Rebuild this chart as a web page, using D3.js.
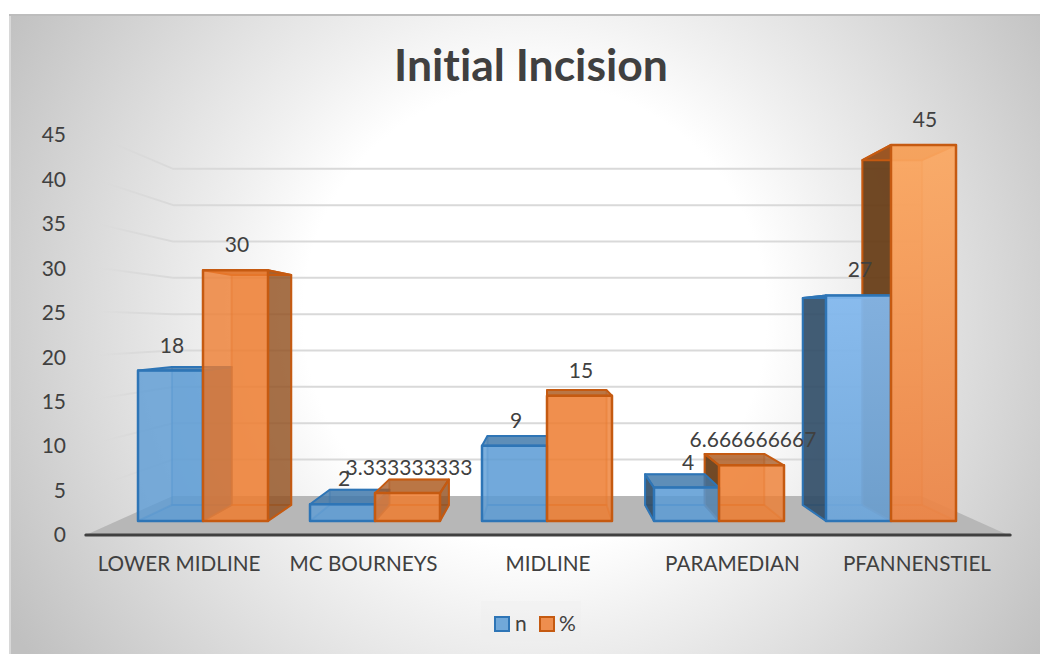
<!DOCTYPE html>
<html><head><meta charset="utf-8">
<script src="https://cdnjs.cloudflare.com/ajax/libs/d3/7.8.5/d3.min.js"></script>
<style>html,body{margin:0;padding:0;background:#fff}svg{display:block}text{font-family:Lato,"Noto Sans",sans-serif;fill:#404040;font-variant-ligatures:none;font-feature-settings:"liga" 0}</style>
</head><body><svg id="c" width="1040" height="654"></svg>
<script>
const title = "Initial Incision";
const categories = ["LOWER MIDLINE","MC BOURNEYS","MIDLINE","PARAMEDIAN","PFANNENSTIEL"];
const seriesNames = ["n","%"];
const nValues = [18,2,9,4,27];
const pctValues = [30,3.333333333,15,6.666666667,45];
const yTicks = [0,5,10,15,20,25,30,35,40,45];

const W=1040,H=654;
const svg=d3.select("#c");
const defs=svg.append("defs");

// background
const bg=defs.append("radialGradient").attr("id","bg").attr("gradientUnits","userSpaceOnUse")
  .attr("cx",535).attr("cy",315).attr("r",610);
[[0,"#fff"],[.38,"#fff"],[.52,"#f0f0f0"],[.84,"#d0d0d0"],[1,"#c0c0c0"]].forEach(s=>bg.append("stop").attr("offset",s[0]).attr("stop-color",s[1]));
svg.append("rect").attr("x",9).attr("y",14).attr("width",W-9).attr("height",H-14).attr("fill","url(#bg)");
svg.append("rect").attr("x",9).attr("y",14).attr("width",W-9).attr("height",2).attr("fill","#bdbdbd");
svg.append("rect").attr("x",9).attr("y",16).attr("width",2).attr("height",H-16).attr("fill","#d8d8d8");

// scales on the front plane of the bars, plus perspective around a vanishing point
const x0=d3.scaleBand().domain(categories).range([117,977]);
const x1=d3.scaleBand().domain(seriesNames).range([0,130]);
const y=d3.scaleLinear().domain([0,45]).range([521,145]);
const yLabel=d3.scaleLinear().domain([0,45]).range([535,135]);
const vx=547,vy=328;
const S={wallFront:1.0725,barFront:1,barBack:.917,wallBack:.87};
const px=(x,s)=>vx+s*(x-vx), py=(yy,s)=>vy+s*(yy-vy);
const P=(x,yy,s)=>[px(x,s),py(yy,s)];
const poly=pts=>pts.map(p=>p[0].toFixed(1)+","+p[1].toFixed(1)).join(" ");

// side wall gridlines fade out towards the front
const wg=defs.append("linearGradient").attr("id","wallFade").attr("gradientUnits","userSpaceOnUse")
  .attr("x1",px(117,S.wallFront)).attr("x2",px(117,S.wallBack)).attr("y1",0).attr("y2",0);
wg.append("stop").attr("offset",.1).attr("stop-color","#d9d9d9").attr("stop-opacity",0);
wg.append("stop").attr("offset",.5).attr("stop-color","#d9d9d9").attr("stop-opacity",.8);
wg.append("stop").attr("offset",1).attr("stop-color","#d9d9d9");

const [xL,xR]=x0.range();
// gridlines
const grid=svg.append("g");
yTicks.filter(t=>t>0).forEach(t=>{
  const a=P(xL,y(t),S.wallFront),b=P(xL,y(t),S.wallBack),c=P(xR,y(t),S.wallBack);
  grid.append("polygon").attr("points",poly([[a[0],a[1]-1],[b[0],b[1]-1],[b[0],b[1]+1],[a[0],a[1]+1]])).attr("fill","url(#wallFade)");
  grid.append("line").attr("x1",b[0]).attr("x2",c[0]).attr("y1",b[1]).attr("y2",c[1]).attr("stroke","#d9d9d9").attr("stroke-width",2);
});
// floor
svg.append("polygon").attr("fill","#b7b7b7").attr("points",poly([
  P(xL,y(0),S.wallFront),P(xL,y(0),S.wallBack),P(xR,y(0),S.wallBack),P(xR,y(0),S.wallFront)]));
// axis
const axA=P(xL,y(0),S.wallFront),axB=P(xR,y(0),S.wallFront);
svg.append("line").attr("x1",axA[0]).attr("x2",axB[0]+2).attr("y1",axA[1]).attr("y2",axB[1])
  .attr("stroke","#404040").attr("stroke-width",3).attr("stroke-linecap","round");

// y tick labels
const tickG=svg.append("g");
yTicks.forEach(t=>tickG.append("text").attr("x",66).attr("y",yLabel(t)).attr("dy","0.35em")
  .attr("text-anchor","end").attr("font-size",21).text(t));
// category labels follow the front edge of the floor
categories.forEach(c=>svg.append("text").attr("x",px(x0(c)+x0.bandwidth()/2,S.wallFront)+1).attr("y",564).attr("dy","0.33em")
  .attr("text-anchor","middle").attr("font-size",20.7).text(c));

// palettes
const pal={n:{line:"#2e75b6",front:"#5b9bd5",sideL:"#2a5480",sideR:"#2f4a63",top:"#3f76a8"},
           "%":{line:"#c55a11",front:"#ed7d31",sideL:"#8a4e20",sideR:"#5f3510",top:"#a85a22"}};
const litG=defs.append("linearGradient").attr("id","litO").attr("x1",0).attr("x2",0).attr("y1",0).attr("y2",1);
litG.append("stop").attr("offset",0).attr("stop-color","#fba760");
litG.append("stop").attr("offset",1).attr("stop-color","#ec8445");
const litB=defs.append("linearGradient").attr("id","litB").attr("x1",0).attr("x2",0).attr("y1",0).attr("y2",1);
litB.append("stop").attr("offset",0).attr("stop-color","#84b9ee");
litB.append("stop").attr("offset",1).attr("stop-color","#6ea6da");

const bars=svg.append("g");
const vals={n:nValues,"%":pctValues};
categories.forEach((cat,i)=>{
  const g=bars.append("g");
  const order=i>=3?["%","n"]:["n","%"];
  const layout=order.map(name=>{
    const xa=x0(cat)+21+x1(name), xb=xa+x1.bandwidth(), top=y(vals[name][i]), base=y(0);
    return {name,xa,xb,top,base,c:pal[name]};
  });
  // inner (rear) faces
  layout.forEach(b=>{
    const {xa,xb,top,base,c}=b, sb=S.barBack, sf=S.barFront;
    const face=(pts,fill,op,so)=>g.append("polygon").attr("points",poly(pts)).attr("fill",fill).attr("fill-opacity",op)
      .attr("stroke",c.line).attr("stroke-opacity",so).attr("stroke-width",2).attr("stroke-linejoin","round");
    face([P(xa,top,sb),P(xb,top,sb),P(xb,base,sb),P(xa,base,sb)],c.front,.3,.4); // back
    face([P(xa,base,sb),P(xb,base,sb),P(xb,base,sf),P(xa,base,sf)],c.front,.3,.4); // bottom
    const mid=(xa+xb)/2;
    if(Math.abs(mid-vx)>40){
      const sx=mid<vx?xb:xa;
      face([P(sx,top,sb),P(sx,top,sf),P(sx,base,sf),P(sx,base,sb)],mid<vx?c.sideL:c.sideR,mid<vx?.75:.88,1);
    }
    // top face
    face([P(xa,top,sb),P(xb,top,sb),P(xb,top,sf),P(xa,top,sf)],c.top,.78,1);
  });
  // front faces
  [...layout].sort((a,b)=>a.xa-b.xa).forEach(b=>{
    const {xa,xb,top,base,c,name}=b;
    const fill=i===4?(name==="n"?"url(#litB)":"url(#litO)"):c.front;
    g.append("polygon").attr("points",poly([P(xa,top,1),P(xb,top,1),P(xb,base,1),P(xa,base,1)]))
      .attr("fill",fill).attr("fill-opacity",i===4?.92:.8).attr("stroke",c.line).attr("stroke-width",2.5).attr("stroke-linejoin","round");
  });
  // data labels
  seriesNames.forEach(name=>{
    const xc=x0(cat)+21+x1(name)+x1.bandwidth()/2+1.5;
    svg.append("text").datum(vals[name][i]).attr("class","dl").attr("x",xc).attr("y",y(vals[name][i])-25).attr("dy","0.33em")
      .attr("text-anchor","middle").attr("font-size",21).text(d=>d);
  });
});
svg.selectAll("text.dl").raise();

// title
svg.append("text").attr("x",531).attr("y",67).attr("dy","0.32em").attr("text-anchor","middle")
  .attr("font-size",44.5).attr("font-weight",700).text(title);

// legend
const lg=svg.append("g");
lg.append("rect").attr("x",481).attr("y",601).attr("width",100).attr("height",40).attr("fill","#eeeeee").attr("fill-opacity",.35);
[["n",495,515],["%",540,559]].forEach(([n,sx,tx])=>{
  lg.append("rect").attr("x",sx).attr("y",617).attr("width",14).attr("height",14).attr("fill",pal[n].front).attr("fill-opacity",.85)
    .attr("stroke",pal[n].line).attr("stroke-width",2);
  lg.append("text").attr("x",tx).attr("y",624).attr("dy","0.35em").attr("font-size",21).text(n);
});
</script></body></html>
